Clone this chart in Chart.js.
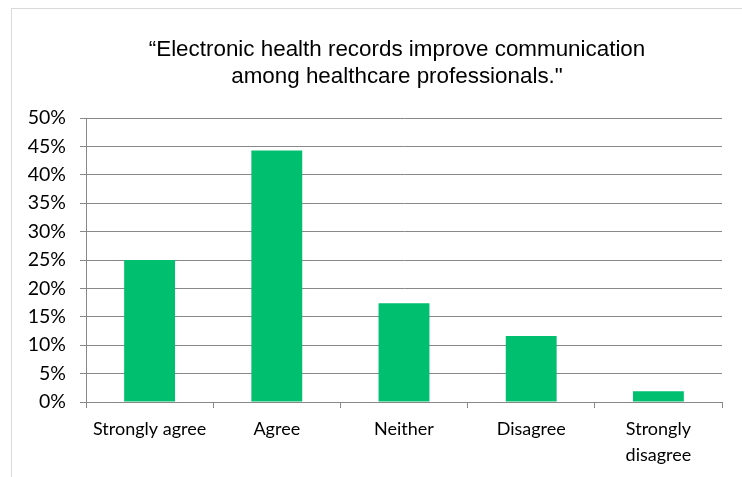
<!DOCTYPE html>
<html><head><meta charset="utf-8">
<script src="https://cdn.jsdelivr.net/npm/chart.js@4"></script>
<style>
html,body{margin:0;padding:0;width:742px;height:477px;overflow:hidden;background:#fff;}
#frame{position:absolute;left:11px;top:8px;width:800px;height:520px;border:1px solid #d9d9d9;}
#wrap{position:absolute;left:0;top:0;width:742px;height:477px;}
#title{position:absolute;left:97px;top:35px;width:600px;text-align:center;font-family:'Liberation Sans',Arial,sans-serif;font-size:22.4px;line-height:27px;color:#000;}
</style></head>
<body>
<div id="frame"></div>
<div id="wrap"><canvas id="c" width="742" height="477"></canvas></div>
<div id="title"></div>
<script>
const categories = ['Strongly agree', 'Agree', 'Neither', 'Disagree', ['Strongly', 'disagree']];
const values = [25.0, 44.3, 17.4, 11.6, 1.9];
const yTicks = [0, 5, 10, 15, 20, 25, 30, 35, 40, 45, 50];
const titleLines = ['\u201CElectronic health records improve communication', 'among healthcare professionals."'];

document.getElementById('title').innerHTML = titleLines.map(t => '<div>' + t + '</div>').join('');

new Chart(document.getElementById('c'), {
  type: 'bar',
  data: {
    labels: categories,
    datasets: [{ data: values, backgroundColor: '#00BF6F', borderWidth: 0,
      categoryPercentage: 1.0, barPercentage: 0.4 }]
  },
  options: {
    responsive: false,
    animation: false,
    layout: { padding: { left: 20, right: 20, top: 118, bottom: 0 } },
    plugins: {
      legend: { display: false },
      tooltip: { enabled: false },
      title: { display: false }
    },
    scales: {
      y: {
        min: 0, max: 50,
        afterBuildTicks: s => { s.ticks = yTicks.map(v => ({ value: v })); },
        afterFit: s => { s.width = 66; },
        ticks: { callback: v => v + '%', color: '#000', padding: 14,
          font: { family: 'Lato', size: 19.5 } },
        grid: { color: '#888', lineWidth: 1, tickLength: 6 },
        border: { color: '#888', width: 1 }
      },
      x: {
        afterFit: s => { s.height = 75; },
        ticks: { color: '#000', padding: 8, font: { family: 'Lato', size: 18, lineHeight: 1.45 } },
        grid: { drawOnChartArea: false, offset: true, color: '#888', tickLength: 6 },
        border: { color: '#888', width: 1 }
      }
    }
  }
});
</script>
</body></html>
